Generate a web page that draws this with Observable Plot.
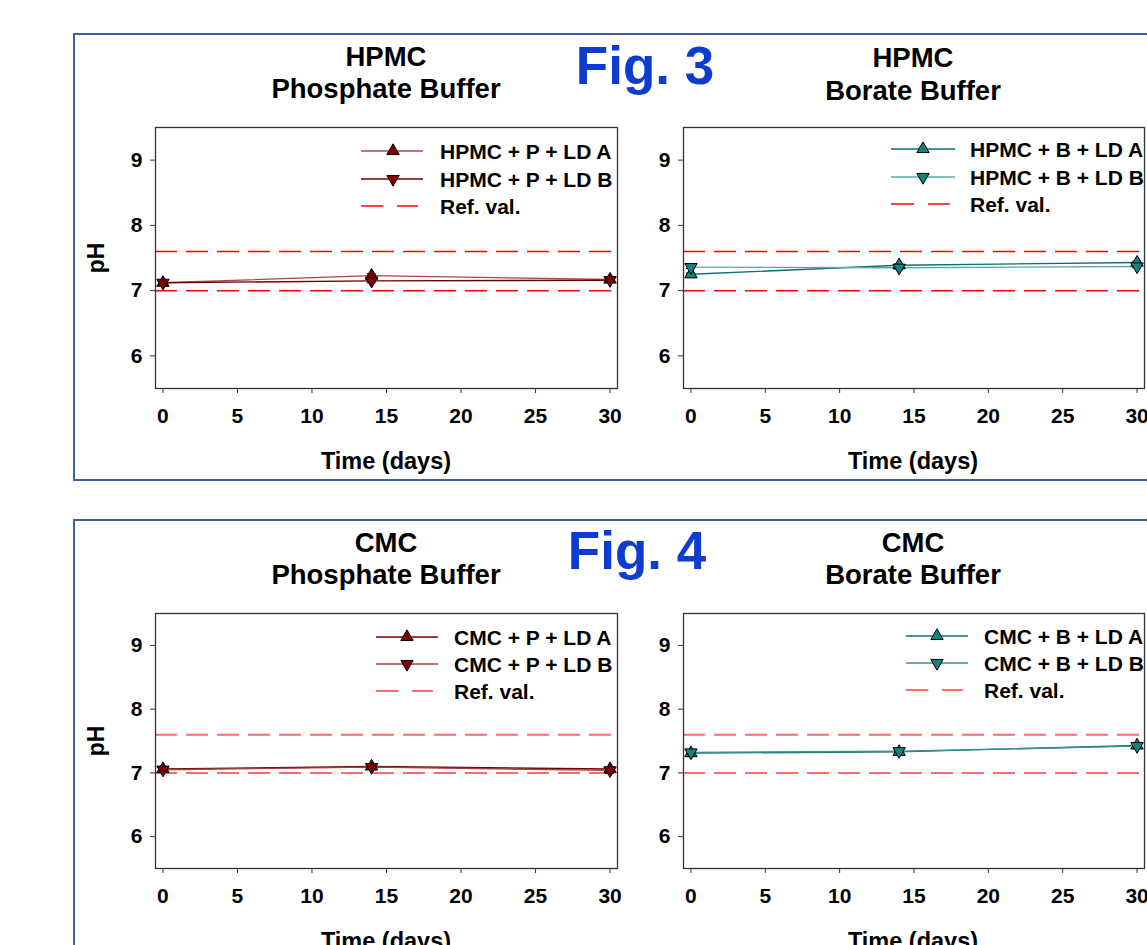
<!DOCTYPE html>
<html>
<head>
<meta charset="utf-8">
<script src="https://cdn.jsdelivr.net/npm/d3@7"></script>
<script src="https://cdn.jsdelivr.net/npm/@observablehq/plot@0.6"></script>
<style>
  html, body { margin: 0; padding: 0; background: #fff; }
  body { width: 1147px; height: 945px; overflow: hidden; position: relative;
         font-family: "Liberation Sans", Arial, sans-serif; font-weight: bold; color: #000; }
  .box { position: absolute; border: 2px solid #41609e; box-sizing: border-box; }
  .t { position: absolute; white-space: nowrap; transform: translate(-50%, -50%); line-height: 1; }
  .lg { position: absolute; white-space: nowrap; transform: translateY(-50%); line-height: 1; font-size: 21px; }
  .sw { position: absolute; overflow: visible; }
  .pl { position: absolute; }
  .pl svg { max-width: none !important; }
</style>
</head>
<body>
<div class="box" style="left:73px;top:33px;width:1100px;height:448px;"></div>
<div class="box" style="left:73px;top:519px;width:1100px;height:460px;"></div>
<div id="root"></div>
<script>
// ---------- data ----------
const days = [0, 14, 30];
const xTicks = [0, 5, 10, 15, 20, 25, 30];
const yTicks = [6, 7, 8, 9];
const refVals = [7.0, 7.6];

const hpmcPA = [7.12, 7.23, 7.17];
const hpmcPB = [7.12, 7.15, 7.16];
const hpmcBA = [7.25, 7.39, 7.43];
const hpmcBB = [7.36, 7.35, 7.37];
const cmcPA  = [7.06, 7.10, 7.06];
const cmcPB  = [7.05, 7.09, 7.04];
const cmcBA  = [7.31, 7.33, 7.43];
const cmcBB  = [7.32, 7.34, 7.42];

const errHpmcPA = [0.02, 0.03, 0.02];
const errHpmcPB = [0.02, 0.03, 0.02];
const errHpmcBA = [0.02, 0.02, 0.02];
const errHpmcBB = [0.02, 0.02, 0.02];
const errCmcPA  = [0.02, 0.03, 0.02];
const errCmcPB  = [0.03, 0.02, 0.05];
const errCmcBA  = [0.04, 0.02, 0.02];
const errCmcBB  = [0.03, 0.02, 0.03];

const titles = [["HPMC", "Phosphate Buffer"], ["HPMC", "Borate Buffer"], ["CMC", "Phosphate Buffer"], ["CMC", "Borate Buffer"]];
const legendNames = [
  ["HPMC + P + LD A", "HPMC + P + LD B", "Ref. val."],
  ["HPMC + B + LD A", "HPMC + B + LD B", "Ref. val."],
  ["CMC + P + LD A", "CMC + P + LD B", "Ref. val."],
  ["CMC + B + LD A", "CMC + B + LD B", "Ref. val."]
];
const figLabels = ["Fig. 3", "Fig. 4"];
const xLabel = "Time (days)";
const yLabel = "pH";

// ---------- helpers ----------
const FONT = '"Liberation Sans", Arial, sans-serif';
const triDown = {
  draw(ctx, size) {
    const y = -Math.sqrt(size / (Math.sqrt(3) * 3));
    ctx.moveTo(0, -y * 2);
    ctx.lineTo(-Math.sqrt(3) * y, y);
    ctx.lineTo(Math.sqrt(3) * y, y);
    ctx.closePath();
  }
};
const series = (vals, errs) => days.map((d, i) => ({day: d, v: vals[i], e: errs[i]}));
const root = document.getElementById("root");

function addText(txt, x, y, size, extra = "") {
  const el = document.createElement("div");
  el.className = "t";
  el.textContent = txt;
  el.style.cssText = `left:${x}px;top:${y}px;font-size:${size}px;${extra}`;
  root.appendChild(el);
}

const MARGIN_L = 60, MARGIN_R = 12, MARGIN_T = 6, MARGIN_B = 40;
const R = 4.6;

function panel(p) {
  const A = series(p.a, p.ea), B = series(p.b, p.eb);
  const both = A.concat(B);
  const W = MARGIN_L + p.fw + MARGIN_R, H = MARGIN_T + p.fh + MARGIN_B;
  const chart = Plot.plot({
    width: W,
    height: H,
    marginLeft: MARGIN_L, marginRight: MARGIN_R, marginTop: MARGIN_T, marginBottom: MARGIN_B,
    x: {domain: [-0.5, 30.5]},
    y: {domain: [5.5, 9.5]},
    style: {fontFamily: FONT, fontSize: "21px", fontWeight: "bold", color: "#000", background: "transparent", overflow: "visible", maxWidth: "none"},
    marks: [
      Plot.ruleY(refVals, {stroke: p.refColor, strokeWidth: p.refWidth, strokeDasharray: "22,9"}),
      Plot.ruleX(both, {x: "day", y1: d => d.v - d.e, y2: d => d.v + d.e, stroke: "#000", strokeWidth: 1}),
      Plot.ruleY(both, {y: d => d.v + d.e, x1: d => d.day - 0.3, x2: d => d.day + 0.3, stroke: "#000", strokeWidth: 1}),
      Plot.ruleY(both, {y: d => d.v - d.e, x1: d => d.day - 0.3, x2: d => d.day + 0.3, stroke: "#000", strokeWidth: 1}),
      Plot.line(A, {x: "day", y: "v", stroke: p.lineA, strokeWidth: 1.4}),
      Plot.line(B, {x: "day", y: "v", stroke: p.lineB, strokeWidth: 1.4}),
      Plot.dot(A, {x: "day", y: "v", symbol: "triangle", r: R, fill: p.fill, stroke: "#000", strokeWidth: 1}),
      Plot.dot(B, {x: "day", y: "v", symbol: triDown, r: R, fill: p.fill, stroke: "#000", strokeWidth: 1}),
      Plot.axisX({ticks: xTicks, tickSize: 5, tickPadding: 15, label: null, tickFormat: d => String(d), stroke: "#333"}),
      Plot.axisY({ticks: yTicks, tickSize: 5, tickPadding: 8, label: null, tickFormat: d => String(d), stroke: "#333"}),
      Plot.frame({stroke: "#333", strokeWidth: 1.3})
    ]
  });
  const wrap = document.createElement("div");
  wrap.className = "pl";
  wrap.style.left = (p.fl - MARGIN_L) + "px";
  wrap.style.top = (p.ft - MARGIN_T) + "px";
  wrap.style.width = W + "px";
  wrap.style.height = H + "px";
  wrap.appendChild(chart);
  root.appendChild(wrap);

  // titles
  addText(p.title[0], p.cx, p.ty[0], 27.5);
  addText(p.title[1], p.cx, p.ty[1], 27.5);
  // x label
  addText(xLabel, p.cx, p.ft + p.fh + 74, 23.5);
  if (p.pH) addText(yLabel, 96, p.ft + p.fh / 2, 23, "transform:translate(-50%,-50%) rotate(-90deg);");

  // legend
  const lg = p.legend;
  const sym = d3.symbol().size(Math.PI * R * R);
  const triUpPath = sym.type(d3.symbolTriangle)();
  const triDnPath = sym.type(triDown)();
  const rows = [
    {kind: "A", stroke: p.lineA, path: triUpPath},
    {kind: "B", stroke: p.lineB, path: triDnPath},
    {kind: "R"}
  ];
  rows.forEach((r, i) => {
    const y = lg.rows[i];
    const w = lg.x1 - lg.x0;
    const svg = document.createElementNS("http://www.w3.org/2000/svg", "svg");
    svg.setAttribute("class", "sw");
    svg.setAttribute("width", w);
    svg.setAttribute("height", 20);
    svg.style.left = lg.x0 + "px";
    svg.style.top = (y - 10) + "px";
    if (r.kind === "R") {
      svg.innerHTML = `<line x1="0" x2="${w * 0.36}" y1="10" y2="10" stroke="${p.refColor}" stroke-width="${p.refWidth}"/>` +
                      `<line x1="${w * 0.58}" x2="${w * 0.92}" y1="10" y2="10" stroke="${p.refColor}" stroke-width="${p.refWidth}"/>`;
    } else {
      svg.innerHTML = `<line x1="0" x2="${w}" y1="10" y2="10" stroke="${r.stroke}" stroke-width="1.4"/>` +
                      `<path d="${r.path}" transform="translate(${lg.xm - lg.x0},10)" fill="${p.fill}" stroke="#000" stroke-width="1"/>`;
    }
    root.appendChild(svg);
    const el = document.createElement("div");
    el.className = "lg";
    el.textContent = p.legendNames[i];
    el.style.left = lg.tx + "px";
    el.style.top = y + "px";
    root.appendChild(el);
  });
}

const MAROON = "#800000", TEAL = "#148282";
panel({a: hpmcPA, b: hpmcPB, ea: errHpmcPA, eb: errHpmcPB, fl: 155, ft: 127, fw: 462, fh: 261,
       fill: MAROON, lineA: "#a84848", lineB: "#6e0000", refColor: "#ff0000", refWidth: 1.5,
       title: titles[0], legendNames: legendNames[0], cx: 386, ty: [57, 89], pH: true,
       legend: {x0: 361, x1: 423, xm: 393, tx: 440, rows: [151, 179, 206]}});
panel({a: hpmcBA, b: hpmcBB, ea: errHpmcBA, eb: errHpmcBB, fl: 683, ft: 127, fw: 461, fh: 261,
       fill: TEAL, lineA: "#0a7070", lineB: "#5aa8a8", refColor: "#ff0000", refWidth: 1.5,
       title: titles[1], legendNames: legendNames[1], cx: 913, ty: [58, 91], pH: false,
       legend: {x0: 891, x1: 955, xm: 923, tx: 970, rows: [149, 177, 204]}});
panel({a: cmcPA, b: cmcPB, ea: errCmcPA, eb: errCmcPB, fl: 155, ft: 613, fw: 462, fh: 255,
       fill: MAROON, lineA: "#6e0000", lineB: "#a04040", refColor: "#ff6a6a", refWidth: 2,
       title: titles[2], legendNames: legendNames[2], cx: 386, ty: [543, 575], pH: true,
       legend: {x0: 376, x1: 438, xm: 407, tx: 454, rows: [637, 664, 691]}});
panel({a: cmcBA, b: cmcBB, ea: errCmcBA, eb: errCmcBB, fl: 683, ft: 613, fw: 461, fh: 255,
       fill: TEAL, lineA: "#0a7070", lineB: "#3a9090", refColor: "#ff6a6a", refWidth: 2,
       title: titles[3], legendNames: legendNames[3], cx: 913, ty: [543, 575], pH: false,
       legend: {x0: 906, x1: 968, xm: 937, tx: 984, rows: [636, 663, 690]}});

addText(figLabels[0], 645, 65, 53, "color:#0d3ccf;");
addText(figLabels[1], 637, 550, 53, "color:#0d3ccf;");
</script>
</body>
</html>
